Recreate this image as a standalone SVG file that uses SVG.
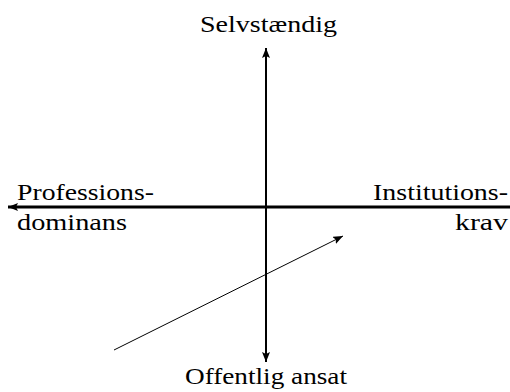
<svg xmlns="http://www.w3.org/2000/svg" width="510" height="392" viewBox="0 0 510 392">
<defs>
<marker id="ah" viewBox="0 0 10 8" refX="10" refY="4" markerWidth="10" markerHeight="8" markerUnits="userSpaceOnUse" orient="auto">
<path d="M0,0 L10,4 L0,8 L2,4 Z" fill="#000"/>
</marker>
</defs>
<style>
text{font-family:"Liberation Serif","DejaVu Serif",serif;font-size:23px;fill:#000}
</style>
<rect width="510" height="392" fill="#fff"/>
<g id="connectors" fill="none" stroke="#000">
<line x1="510" y1="207" x2="8" y2="207" stroke-width="3" marker-end="url(#ah)"/>
<line x1="266" y1="207" x2="266" y2="48" stroke-width="2" marker-end="url(#ah)"/>
<line x1="266" y1="207" x2="266" y2="362" stroke-width="2" marker-end="url(#ah)"/>
<line x1="114" y1="350" x2="343" y2="236" stroke-width="1" marker-end="url(#ah)"/>
</g>
<g id="top"><text x="200" y="32" textLength="137" lengthAdjust="spacingAndGlyphs">Selvstændig</text></g>
<g id="bottom"><text x="185" y="384" textLength="162" lengthAdjust="spacingAndGlyphs">Offentlig ansat</text></g>
<g id="left"><text x="17" y="200" textLength="137" lengthAdjust="spacingAndGlyphs">Professions-</text><text x="17" y="230" textLength="110" lengthAdjust="spacingAndGlyphs">dominans</text></g>
<g id="right"><text x="373" y="200" textLength="135" lengthAdjust="spacingAndGlyphs">Institutions-</text><text x="455" y="230" textLength="53" lengthAdjust="spacingAndGlyphs">krav</text></g>
</svg>
